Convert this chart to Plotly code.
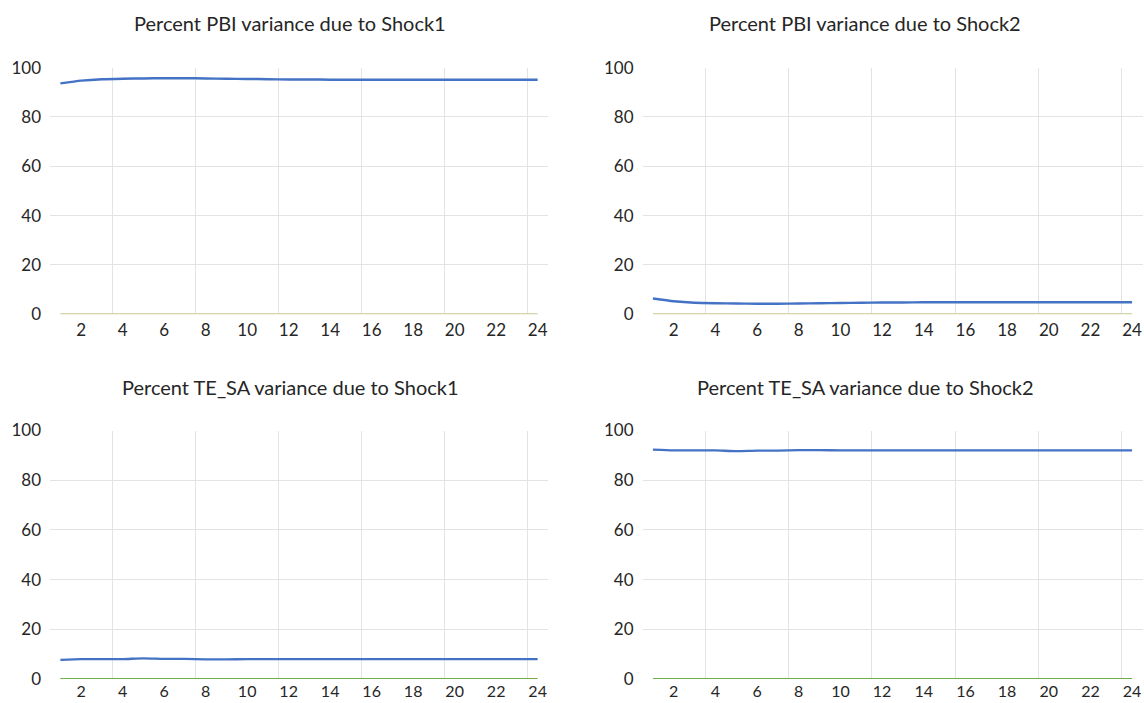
import plotly.graph_objects as go

periods = list(range(1, 25))
tick_vals = [2, 4, 6, 8, 10, 12, 14, 16, 18, 20, 22, 24]
tick_text = ["2", "4", "6", "8", "10", "12", "14", "16", "18", "20", "22", "24"]

titles = [
    "Percent PBI variance due to Shock1",
    "Percent PBI variance due to Shock2",
    "Percent TE_SA variance due to Shock1",
    "Percent TE_SA variance due to Shock2",
]

pbi_shock1 = [93.6, 94.7, 95.3, 95.5, 95.6, 95.7, 95.7, 95.6, 95.5, 95.4, 95.3, 95.2,
              95.2, 95.1, 95.1, 95.1, 95.1, 95.1, 95.1, 95.1, 95.1, 95.1, 95.1, 95.1]
pbi_shock2 = [6.4, 5.3, 4.7, 4.5, 4.4, 4.3, 4.3, 4.4, 4.5, 4.6, 4.7, 4.8,
              4.8, 4.9, 4.9, 4.9, 4.9, 4.9, 4.9, 4.9, 4.9, 4.9, 4.9, 4.9]
tesa_shock1 = [7.7, 8.0, 8.0, 8.0, 8.3, 8.1, 8.1, 7.9, 7.9, 8.0, 8.0, 8.0,
               8.0, 8.0, 8.0, 8.0, 8.0, 8.0, 8.0, 8.0, 8.0, 8.0, 8.0, 8.0]
tesa_shock2 = [92.3, 92.0, 92.0, 92.0, 91.7, 91.9, 91.9, 92.1, 92.1, 92.0, 92.0, 92.0,
               92.0, 92.0, 92.0, 92.0, 92.0, 92.0, 92.0, 92.0, 92.0, 92.0, 92.0, 92.0]
base_pbi = [0, 0, 0, 0, 0, 0, 0, 0, 0, 0, 0, 0, 0, 0, 0, 0, 0, 0, 0, 0, 0, 0, 0, 0]
base_tesa = [0, 0, 0, 0, 0, 0, 0, 0, 0, 0, 0, 0, 0, 0, 0, 0, 0, 0, 0, 0, 0, 0, 0, 0]

series = [pbi_shock1, pbi_shock2, tesa_shock1, tesa_shock2]
bases = [base_pbi, base_pbi, base_tesa, base_tesa]
base_colors = ["#C8C994", "#C8C994", "#70AD47", "#70AD47"]

W, H = 1144, 703
xdom = [[50 / W, 548 / W], [642.5 / W, 1142.5 / W]]
ydom = [[1 - 314.3 / H, 1 - 67.6 / H], [1 - 679 / H, 1 - 430.5 / H]]
title_x = [290 / W, 865 / W]
title_y = [1 - 23 / H, 1 - 386.5 / H]
x_standoff = [4, 1]
x_fontsize = [17, 16]

FONT = "Lato"
TXT = "#262626"
GRID = "#E3E3E3"
BLUE = "#4472C4"

fig = go.Figure()
annotations = []
layout = {}
for i in range(4):
    col = i % 2
    row = i // 2
    ax = "" if i == 0 else str(i + 1)
    fig.add_trace(go.Scatter(x=periods, y=bases[i], mode="lines",
                             line=dict(color=base_colors[i], width=2.2),
                             xaxis="x" + ax, yaxis="y" + ax, showlegend=False))
    fig.add_trace(go.Scatter(x=periods, y=series[i], mode="lines",
                             line=dict(color=BLUE, width=2.4, shape="spline", smoothing=0.6),
                             xaxis="x" + ax, yaxis="y" + ax, showlegend=False))
    layout["xaxis" + ax] = dict(
        domain=xdom[col], range=[0.5, 24.5], anchor="y" + ax, automargin=False,
        tickmode="array", tickvals=tick_vals, ticktext=tick_text,
        showgrid=False, zeroline=False, showline=False, ticks="",
        ticklabelstandoff=x_standoff[row],
        tickfont=dict(family=FONT, size=x_fontsize[row], color=TXT),
        minor=dict(tickmode="array", tickvals=[3.5, 7.5, 11.5, 15.5, 19.5, 23.5],
                   showgrid=True, gridcolor=GRID, gridwidth=1, ticks=""),
    )
    layout["yaxis" + ax] = dict(
        domain=ydom[row], range=[0, 100], anchor="x" + ax, automargin=False,
        tickmode="array", tickvals=[0, 20, 40, 60, 80, 100],
        showgrid=True, gridcolor=GRID, gridwidth=1, zeroline=False, showline=False,
        ticks="", ticklabelstandoff=8,
        tickfont=dict(family=FONT, size=17, color=TXT),
    )
    annotations.append(dict(text=titles[i], x=title_x[col], y=title_y[row],
                            xref="paper", yref="paper", showarrow=False,
                            xanchor="center", yanchor="middle",
                            font=dict(family=FONT, size=20, color=TXT)))

fig.update_layout(width=W, height=H, margin=dict(l=0, r=0, t=0, b=0),
                  paper_bgcolor="white", plot_bgcolor="white",
                  annotations=annotations, showlegend=False, **layout)
fig.write_html("out.html", config={"displayModeBar": False},
               post_script="document.body.style.margin='0';"
                           "document.body.style.overflow='hidden';")
